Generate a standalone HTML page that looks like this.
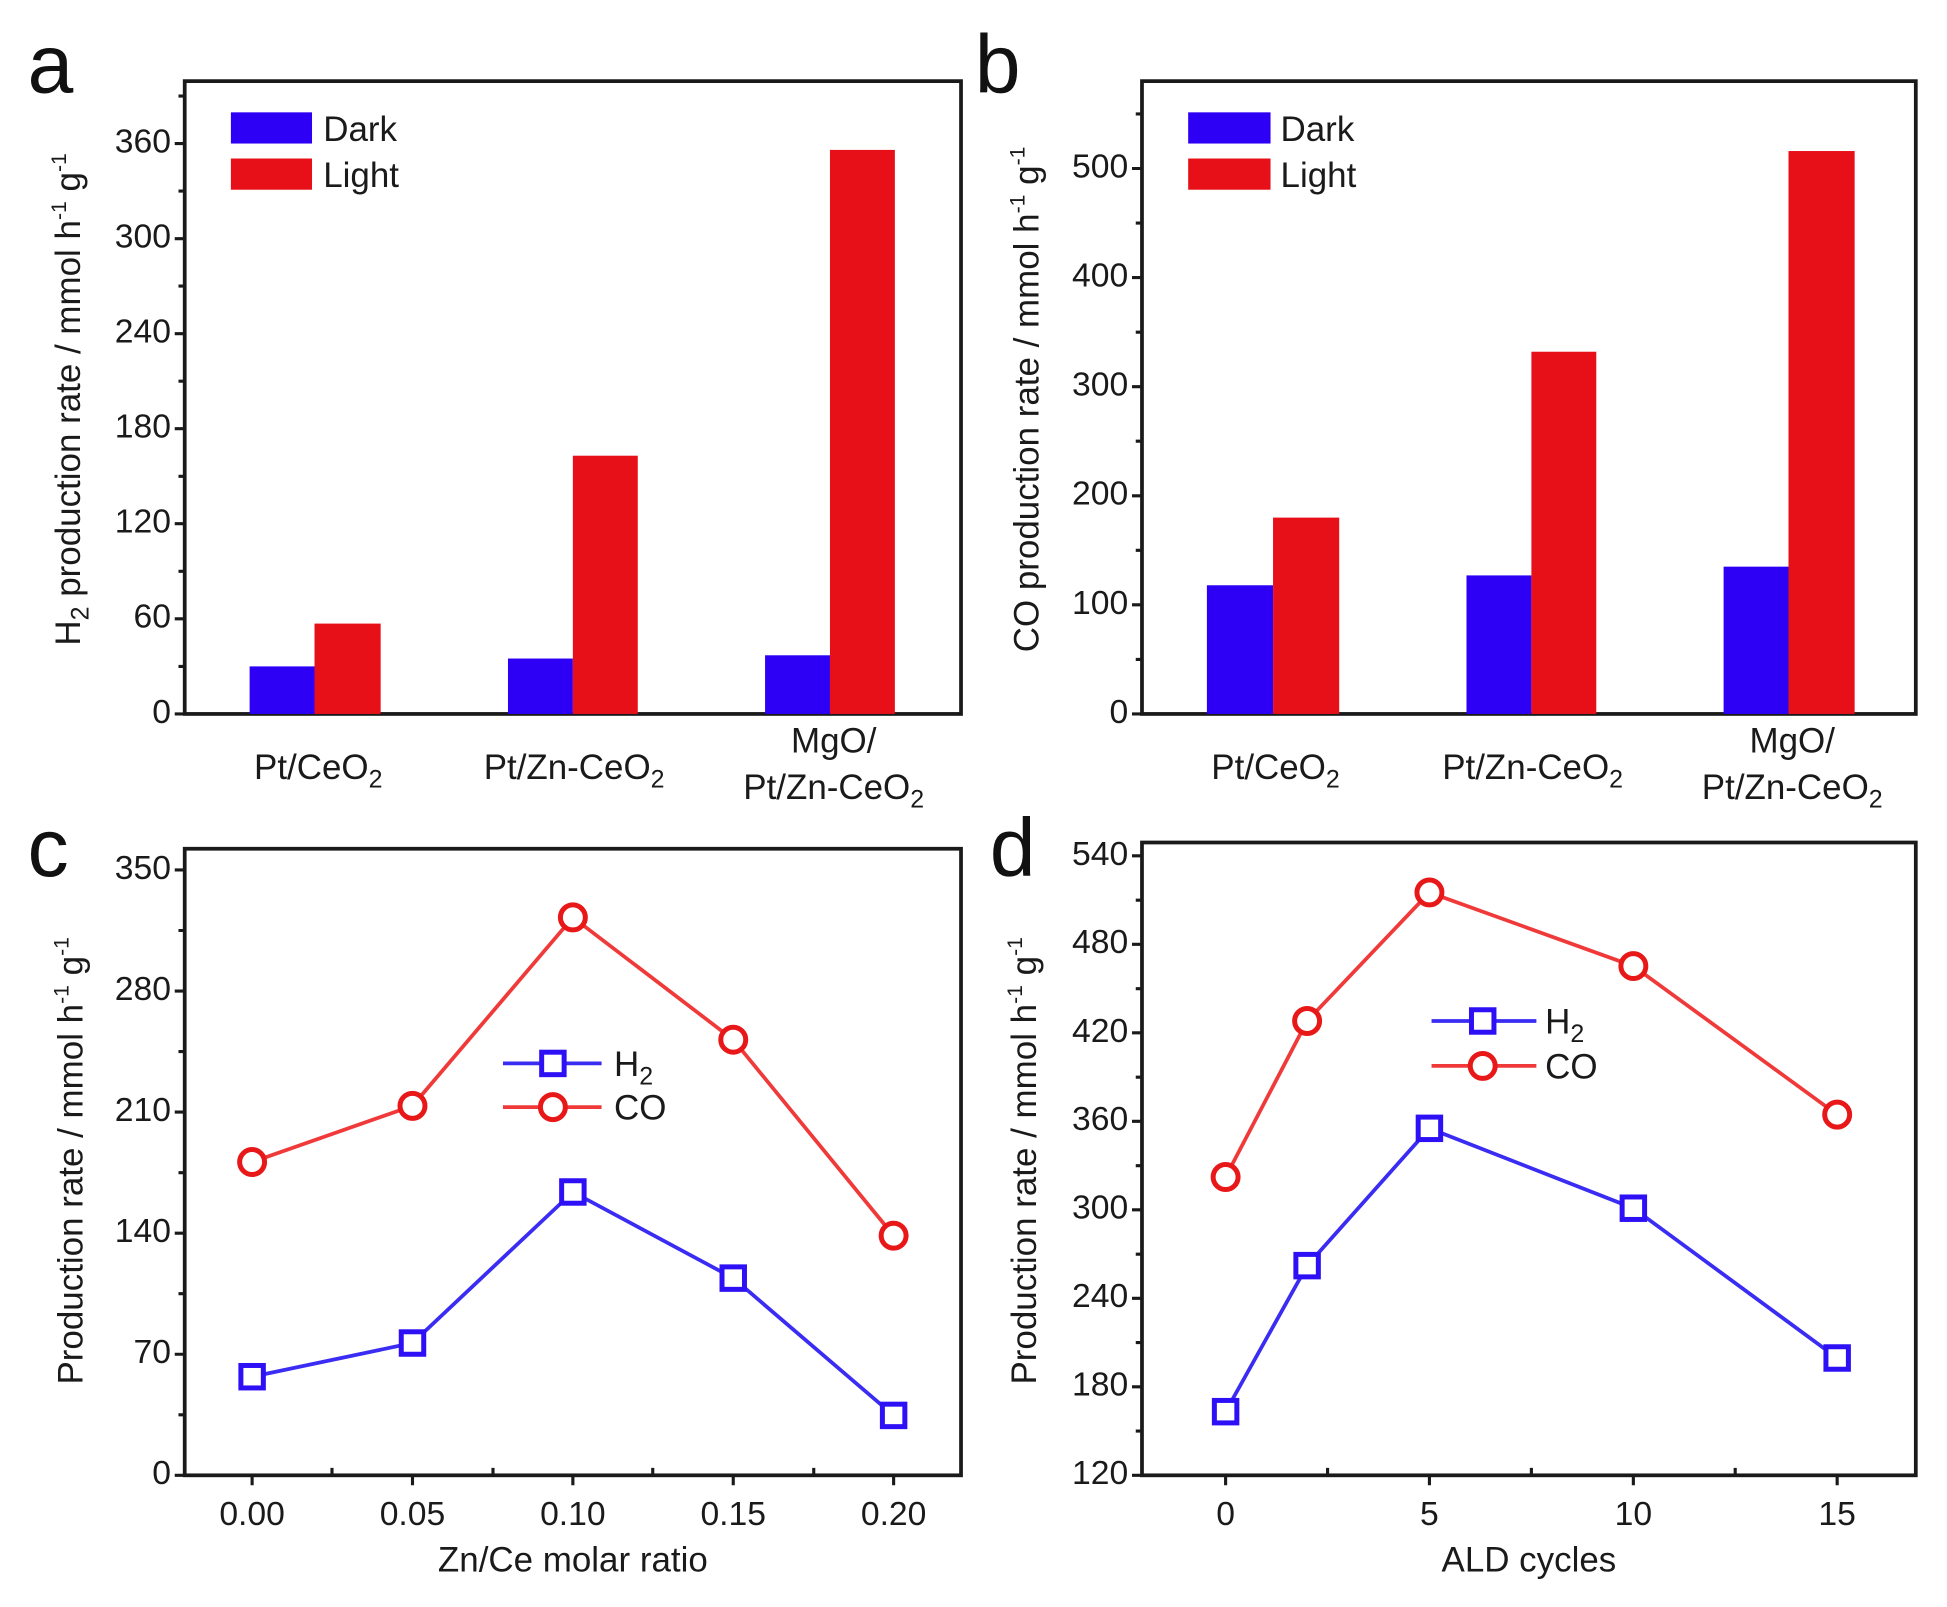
<!DOCTYPE html>
<html><head><meta charset="utf-8"><style>
html,body{margin:0;padding:0;background:#fff}
svg{display:block}
text{font-family:"Liberation Sans",Arial,sans-serif;fill:#1a1a1a}
.t{font-size:27px}
.ti{font-size:28px}
.L{font-size:66px;fill:#111}
</style></head><body>
<svg width="1947" height="1607" viewBox="0 0 1560 1287.5" preserveAspectRatio="none" xmlns="http://www.w3.org/2000/svg">
<rect width="1560" height="1287.5" fill="#fff"/>
<g stroke="#1a1a1a" stroke-width="3" fill="none">
<rect x="148" y="65" width="622" height="507"/>
<rect x="915" y="65" width="620" height="507"/>
<rect x="148" y="680" width="622" height="502"/>
<rect x="915" y="675" width="620" height="507"/>
</g>
<text class="L" x="22" y="74">a</text>
<text class="L" x="781" y="74">b</text>
<text class="L" x="22" y="702">c</text>
<text class="L" x="793" y="702">d</text>

<!-- Panel a -->
<g stroke="#1a1a1a" stroke-width="2.5">
<path d="M140 572H148M140 495.8H148M140 419.6H148M140 343.5H148M140 267.3H148M140 191.2H148M140 115H148"/>
<path d="M143 533.9H148M143 457.7H148M143 381.6H148M143 305.4H148M143 229.2H148M143 153.1H148M143 77H148"/>
</g>
<g class="t" text-anchor="end" dominant-baseline="middle">
<text x="137" y="572">0</text><text x="137" y="495.8">60</text><text x="137" y="419.6">120</text><text x="137" y="343.5">180</text><text x="137" y="267.3">240</text><text x="137" y="191.2">300</text><text x="137" y="115">360</text>
</g>
<rect x="200" y="533.9" width="52" height="38.1" fill="#2d00f5"/>
<rect x="252" y="499.6" width="53" height="72.4" fill="#e81018"/>
<rect x="407" y="527.6" width="52" height="44.4" fill="#2d00f5"/>
<rect x="459" y="365.1" width="52" height="206.9" fill="#e81018"/>
<rect x="613" y="525" width="52" height="47" fill="#2d00f5"/>
<rect x="665" y="120.1" width="52" height="451.9" fill="#e81018"/>
<rect x="185" y="90" width="65" height="25" fill="#2d00f5"/>
<rect x="185" y="127" width="65" height="25" fill="#e81018"/>
<text class="ti" x="259" y="113">Dark</text>
<text class="ti" x="259" y="150">Light</text>
<g class="ti" text-anchor="middle">
<text x="255" y="624">Pt/CeO<tspan font-size="20" dy="7">2</tspan></text>
<text x="460" y="624">Pt/Zn-CeO<tspan font-size="20" dy="7">2</tspan></text>
<text x="668" y="603">MgO/</text>
<text x="668" y="640">Pt/Zn-CeO<tspan font-size="20" dy="7">2</tspan></text>
</g>
<text class="ti" transform="translate(64,320) rotate(-90)" text-anchor="middle">H<tspan font-size="20" dy="7">2</tspan><tspan dy="-7"> production rate / mmol h</tspan><tspan font-size="17" dy="-11">-1</tspan><tspan dy="11"> g</tspan><tspan font-size="17" dy="-11">-1</tspan></text>

<!-- Panel b -->
<g stroke="#1a1a1a" stroke-width="2.5">
<path d="M907 572H915M907 484.6H915M907 397.2H915M907 309.8H915M907 222.4H915M907 135H915"/>
<path d="M910 528.3H915M910 440.9H915M910 353.5H915M910 266.1H915M910 178.7H915M910 91.3H915"/>
</g>
<g class="t" text-anchor="end" dominant-baseline="middle">
<text x="904" y="572">0</text><text x="904" y="484.6">100</text><text x="904" y="397.2">200</text><text x="904" y="309.8">300</text><text x="904" y="222.4">400</text><text x="904" y="135">500</text>
</g>
<rect x="967" y="468.9" width="53" height="103.1" fill="#2d00f5"/>
<rect x="1020" y="414.7" width="53" height="157.3" fill="#e81018"/>
<rect x="1175" y="461" width="52" height="111" fill="#2d00f5"/>
<rect x="1227" y="281.8" width="52" height="290.2" fill="#e81018"/>
<rect x="1381" y="454" width="52" height="118" fill="#2d00f5"/>
<rect x="1433" y="121" width="53" height="451" fill="#e81018"/>
<rect x="952" y="90" width="66" height="25" fill="#2d00f5"/>
<rect x="952" y="127" width="66" height="25" fill="#e81018"/>
<text class="ti" x="1026" y="113">Dark</text>
<text class="ti" x="1026" y="150">Light</text>
<g class="ti" text-anchor="middle">
<text x="1022" y="624">Pt/CeO<tspan font-size="20" dy="7">2</tspan></text>
<text x="1228" y="624">Pt/Zn-CeO<tspan font-size="20" dy="7">2</tspan></text>
<text x="1436" y="603">MgO/</text>
<text x="1436" y="640">Pt/Zn-CeO<tspan font-size="20" dy="7">2</tspan></text>
</g>
<text class="ti" transform="translate(832,320) rotate(-90)" text-anchor="middle">CO production rate / mmol h<tspan font-size="17" dy="-11">-1</tspan><tspan dy="11"> g</tspan><tspan font-size="17" dy="-11">-1</tspan></text>

<!-- Panel c -->
<g stroke="#1a1a1a" stroke-width="2.5">
<path d="M140 1182H148M140 1085H148M140 988H148M140 891H148M140 794H148M140 697H148"/>
<path d="M143 1133.5H148M143 1036.5H148M143 939.5H148M143 842.5H148M143 745.5H148"/>
<path d="M202 1182V1190M330.5 1182V1190M459 1182V1190M587.5 1182V1190M716 1182V1190"/>
<path d="M266 1182V1176M395 1182V1176M523 1182V1176M652 1182V1176"/>
</g>
<g class="t" text-anchor="end" dominant-baseline="middle">
<text x="137" y="1182">0</text><text x="137" y="1085">70</text><text x="137" y="988">140</text><text x="137" y="891">210</text><text x="137" y="794">280</text><text x="137" y="697">350</text>
</g>
<g class="t" text-anchor="middle">
<text x="202" y="1222">0.00</text><text x="330.5" y="1222">0.05</text><text x="459" y="1222">0.10</text><text x="587.5" y="1222">0.15</text><text x="716" y="1222">0.20</text>
</g>
<text class="ti" x="459" y="1259" text-anchor="middle">Zn/Ce molar ratio</text>
<text class="ti" transform="translate(66,930) rotate(-90)" text-anchor="middle">Production rate / mmol h<tspan font-size="17" dy="-11">-1</tspan><tspan dy="11"> g</tspan><tspan font-size="17" dy="-11">-1</tspan></text>
<polyline points="202,1103 330.5,1076 459,955 587.5,1024 716,1134" fill="none" stroke="#3a2cf2" stroke-width="3"/>
<polyline points="202,931 330.5,886 459,735 587.5,833 716,990" fill="none" stroke="#f03a3a" stroke-width="3"/>
<g fill="#fff" stroke="#2d10f5" stroke-width="4">
<rect x="193" y="1094" width="18" height="18"/><rect x="321.5" y="1067" width="18" height="18"/><rect x="450" y="946" width="18" height="18"/><rect x="578.5" y="1015" width="18" height="18"/><rect x="707" y="1125" width="18" height="18"/>
</g>
<g fill="#fff" stroke="#e81818" stroke-width="4">
<circle cx="202" cy="931" r="10"/><circle cx="330.5" cy="886" r="10"/><circle cx="459" cy="735" r="10"/><circle cx="587.5" cy="833" r="10"/><circle cx="716" cy="990" r="10"/>
</g>
<path d="M403 852H482" stroke="#3a2cf2" stroke-width="3"/>
<rect x="434" y="843" width="18" height="18" fill="#fff" stroke="#2d10f5" stroke-width="4"/>
<path d="M403 887H482" stroke="#f03a3a" stroke-width="3"/>
<circle cx="443" cy="887" r="10" fill="#fff" stroke="#e81818" stroke-width="4"/>
<text class="ti" x="492" y="862">H<tspan font-size="20" dy="7">2</tspan></text>
<text class="ti" x="492" y="897">CO</text>

<!-- Panel d -->
<g stroke="#1a1a1a" stroke-width="2.5">
<path d="M907 1182H915M907 1111.1H915M907 1040.2H915M907 969.3H915M907 898.4H915M907 827.5H915M907 756.6H915M907 685.7H915"/>
<path d="M910 1146.5H915M910 1075.6H915M910 1004.8H915M910 933.9H915M910 863H915M910 792.1H915M910 721.2H915"/>
<path d="M982 1182V1190M1145.3 1182V1190M1308.7 1182V1190M1472 1182V1190"/>
<path d="M1063.7 1182V1176M1227 1182V1176M1390.3 1182V1176"/>
</g>
<g class="t" text-anchor="end" dominant-baseline="middle">
<text x="904" y="1182">120</text><text x="904" y="1111.1">180</text><text x="904" y="1040.2">240</text><text x="904" y="969.3">300</text><text x="904" y="898.4">360</text><text x="904" y="827.5">420</text><text x="904" y="756.6">480</text><text x="904" y="685.7">540</text>
</g>
<g class="t" text-anchor="middle">
<text x="982" y="1222">0</text><text x="1145.3" y="1222">5</text><text x="1308.7" y="1222">10</text><text x="1472" y="1222">15</text>
</g>
<text class="ti" x="1225" y="1259" text-anchor="middle">ALD cycles</text>
<text class="ti" transform="translate(830,930) rotate(-90)" text-anchor="middle">Production rate / mmol h<tspan font-size="17" dy="-11">-1</tspan><tspan dy="11"> g</tspan><tspan font-size="17" dy="-11">-1</tspan></text>
<polyline points="982,1131 1047.3,1014 1145.3,904 1308.7,968 1472,1088" fill="none" stroke="#3a2cf2" stroke-width="3"/>
<polyline points="982,943 1047.3,818 1145.3,715 1308.7,774 1472,893" fill="none" stroke="#f03a3a" stroke-width="3"/>
<g fill="#fff" stroke="#2d10f5" stroke-width="4">
<rect x="973" y="1122" width="18" height="18"/><rect x="1038.3" y="1005" width="18" height="18"/><rect x="1136.3" y="895" width="18" height="18"/><rect x="1299.7" y="959" width="18" height="18"/><rect x="1463" y="1079" width="18" height="18"/>
</g>
<g fill="#fff" stroke="#e81818" stroke-width="4">
<circle cx="982" cy="943" r="10"/><circle cx="1047.3" cy="818" r="10"/><circle cx="1145.3" cy="715" r="10"/><circle cx="1308.7" cy="774" r="10"/><circle cx="1472" cy="893" r="10"/>
</g>
<path d="M1147 818H1231" stroke="#3a2cf2" stroke-width="3"/>
<rect x="1179" y="809" width="18" height="18" fill="#fff" stroke="#2d10f5" stroke-width="4"/>
<path d="M1147 854H1231" stroke="#f03a3a" stroke-width="3"/>
<circle cx="1188" cy="854" r="10" fill="#fff" stroke="#e81818" stroke-width="4"/>
<text class="ti" x="1238" y="828">H<tspan font-size="20" dy="7">2</tspan></text>
<text class="ti" x="1238" y="864">CO</text>
</svg>
</body></html>
